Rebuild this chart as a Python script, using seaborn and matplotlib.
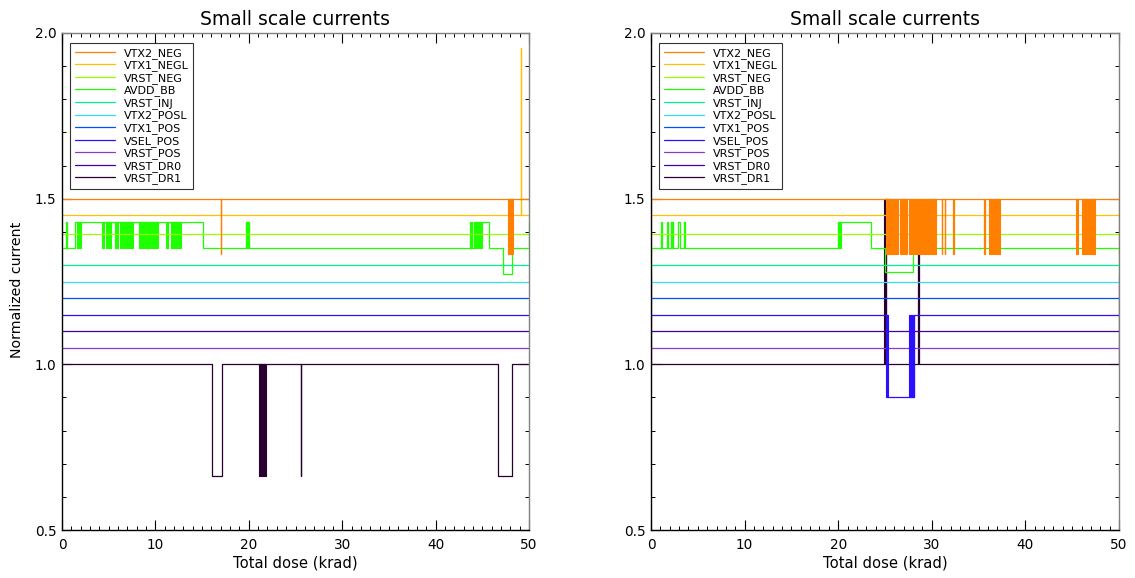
import matplotlib
matplotlib.use("Agg")
import matplotlib.pyplot as plt
import numpy as np
import pandas as pd
import seaborn as sns
from matplotlib.ticker import MultipleLocator

# Channels, legend order (top of the stack first)
series = ["VTX2_NEG", "VTX1_NEGL", "VRST_NEG", "AVDD_BB", "VRST_INJ", "VTX2_POSL",
          "VTX1_POS", "VSEL_POS", "VRST_POS", "VRST_DR0", "VRST_DR1"]
colors = ["#ff7f00", "#ffc000", "#99ff00", "#1eff00", "#00f58c", "#33dcf0",
          "#0050ff", "#2a10ff", "#8a3cc8", "#440098", "#2a0030"]
# display level of each channel (normalized current plus its stacking offset)
levels = [1.5, 1.45, 1.393, 1.35, 1.30, 1.25, 1.20, 1.15, 1.05, 1.10, 1.0]

# Step changes per channel: (dose [krad], level from that dose on)
steps_a = {
    "VTX2_NEG": ([0, 17.0, 17.06, 50], [1.5, 1.333, 1.5, 1.5]),
    "VTX1_NEGL": ([0, 49.1, 49.15, 50], [1.45, 1.955, 1.45, 1.45]),
    "AVDD_BB": ([0, 0.43, 0.57, 1.4, 1.57, 1.75, 15.06, 19.7, 20.0, 43.7, 43.75,
                 43.88, 43.93, 44.15, 45.7, 47.2, 48.2, 49.95, 50],
                [1.35, 1.43, 1.35, 1.43, 1.35, 1.43, 1.35, 1.43, 1.35, 1.43, 1.35,
                 1.43, 1.35, 1.43, 1.35, 1.273, 1.35, 1.43, 1.43]),
    "VRST_DR1": ([0, 16.03, 17.16, 25.55, 25.6, 46.65, 48.2, 50],
                 [1.0, 0.663, 1.0, 0.663, 1.0, 0.663, 1.0, 1.0]),
}
# Intervals where a channel toggles rapidly between two levels
bursts_a = [
    ("VTX2_NEG", 47.7, 48.25, 1.333, 1.5),
    ("AVDD_BB", 1.75, 2.0, 1.35, 1.43),
    ("AVDD_BB", 4.3, 4.5, 1.35, 1.43),
    ("AVDD_BB", 4.68, 5.25, 1.35, 1.43),
    ("AVDD_BB", 5.67, 5.96, 1.35, 1.43),
    ("AVDD_BB", 6.2, 6.82, 1.35, 1.43),
    ("AVDD_BB", 6.96, 7.17, 1.35, 1.43),
    ("AVDD_BB", 7.28, 7.57, 1.35, 1.43),
    ("AVDD_BB", 8.24, 9.42, 1.35, 1.43),
    ("AVDD_BB", 9.53, 10.24, 1.35, 1.43),
    ("AVDD_BB", 11.13, 11.31, 1.35, 1.43),
    ("AVDD_BB", 11.63, 12.7, 1.35, 1.43),
    ("AVDD_BB", 19.7, 20.0, 1.35, 1.43),
    ("AVDD_BB", 44.15, 45.0, 1.35, 1.43),
    ("VRST_DR1", 21.1, 21.8, 0.663, 1.0),
]

steps_b = {
    "VTX2_NEG": ([0, 0.03, 31.05, 31.1, 31.4, 31.45, 32.3, 32.35, 35.6, 35.65, 49.97, 50],
                 [1.333, 1.5, 1.333, 1.5, 1.333, 1.5, 1.333, 1.5, 1.333, 1.5, 1.5, 1.333]),
    "AVDD_BB": ([0, 0.03, 1.03, 1.13, 1.68, 1.85, 2.1, 2.4, 2.92, 3.06, 3.53, 3.67,
                 20.0, 23.55, 25.05, 28.0, 49.97, 50],
                [1.27, 1.35, 1.43, 1.35, 1.43, 1.35, 1.43, 1.35, 1.43, 1.35, 1.43, 1.35,
                 1.43, 1.35, 1.28, 1.35, 1.35, 1.27]),
    "VSEL_POS": ([0, 25.2, 28.1, 50], [1.15, 0.9, 1.15, 1.15]),
    "VRST_DR1": ([0, 0.03, 24.95, 25.1, 28.55, 28.65, 49.97, 50],
                 [1.27, 1.0, 1.5, 1.0, 1.333, 1.0, 1.0, 1.27]),
}
bursts_b = [
    ("VTX2_NEG", 25.07, 26.35, 1.333, 1.5),
    ("VTX2_NEG", 26.6, 27.3, 1.333, 1.5),
    ("VTX2_NEG", 27.6, 30.5, 1.333, 1.5),
    ("VTX2_NEG", 36.1, 36.4, 1.333, 1.5),
    ("VTX2_NEG", 36.5, 37.3, 1.333, 1.5),
    ("VTX2_NEG", 45.4, 45.58, 1.333, 1.5),
    ("VTX2_NEG", 46.0, 47.45, 1.333, 1.5),
    ("AVDD_BB", 2.1, 2.4, 1.35, 1.43),
    ("AVDD_BB", 20.0, 20.3, 1.35, 1.43),
    ("VSEL_POS", 25.15, 25.35, 0.9, 1.15),
    ("VSEL_POS", 27.6, 28.1, 0.9, 1.15),
    ("VRST_DR1", 24.9, 25.1, 1.0, 1.5),
]

x_ticks = [0, 10, 20, 30, 40, 50]
y_ticks = [0.5, 1.0, 1.5, 2.0]

sns.set_theme(style="white")
plt.rcParams["font.family"] = ["DejaVu Sans"]
plt.rcParams["text.color"] = "black"
plt.rcParams["axes.labelcolor"] = "black"
plt.rcParams["xtick.color"] = "black"
plt.rcParams["ytick.color"] = "black"

fig = plt.figure(figsize=(11.35, 5.78), dpi=100)
ax_a = fig.add_axes([62 / 1135, 1 - 530 / 578, 467 / 1135, 497 / 578])
ax_b = fig.add_axes([651 / 1135, 1 - 530 / 578, 468 / 1135, 497 / 578])

palette = dict(zip(series, colors))
base = dict(zip(series, levels))


def draw_panel(ax, steps, bursts, ylabel):
    # bottom of the stack first so the upper channels sit on top
    for k, name in enumerate(reversed(series)):
        z = 2 + 0.01 * k
        xs, ys = steps.get(name, ([0, 50], [base[name], base[name]]))
        df = pd.DataFrame({"dose": xs, "current": ys})
        sns.lineplot(data=df, x="dose", y="current", ax=ax, color=palette[name],
                     drawstyle="steps-post", estimator=None, sort=False,
                     lw=0.9, label=name, zorder=z)
        for bname, x0, x1, lo, hi in bursts:
            if bname == name:
                ax.fill_between([x0, x1], [lo, lo], [hi, hi], color=palette[name],
                                lw=0.8, zorder=z)

    ax.set_xlim(0, 50)
    ax.set_ylim(0.5, 2.0)
    ax.set_xticks(x_ticks)
    ax.set_yticks(y_ticks)
    ax.set_yticklabels([f"{v:.1f}" for v in y_ticks])
    ax.xaxis.set_minor_locator(MultipleLocator(1))
    ax.yaxis.set_minor_locator(MultipleLocator(0.1))
    ax.tick_params(which="both", direction="in", top=True, right=True,
                   bottom=True, left=True, labelsize=9.8, colors="#000000")
    ax.tick_params(which="major", length=7, width=0.8)
    ax.tick_params(which="minor", length=3.2, width=0.7)
    ax.tick_params(axis="x", pad=6)
    ax.tick_params(axis="y", pad=4)
    for side in ["left", "bottom"]:
        ax.spines[side].set_color("#000000")
        ax.spines[side].set_linewidth(1.0)
    for side in ["top", "right"]:
        ax.spines[side].set_color("#808080")
        ax.spines[side].set_linewidth(1.0)
    ax.set_title("Small scale currents", fontsize=13.5, pad=6, color="black")
    ax.set_xlabel("Total dose (krad)", fontsize=10.6, labelpad=2)
    ax.set_ylabel(ylabel, fontsize=10.2)
    ax.yaxis.set_label_coords(-0.082, 0.484)

    handles, labels = ax.get_legend_handles_labels()
    lookup = dict(zip(labels, handles))
    leg = ax.legend([lookup[n] for n in series], series, loc="upper left",
                    bbox_to_anchor=(0.017, 0.98), borderaxespad=0, fontsize=8,
                    frameon=True, fancybox=False, handlelength=3.6,
                    handletextpad=0.8, labelspacing=0.15, borderpad=0.42)
    leg.get_frame().set_edgecolor("#000000")
    leg.get_frame().set_linewidth(0.8)
    leg.set_zorder(10)


draw_panel(ax_a, steps_a, bursts_a, "Normalized current")
draw_panel(ax_b, steps_b, bursts_b, "")

fig.savefig("out.png", dpi=100, facecolor="white")
